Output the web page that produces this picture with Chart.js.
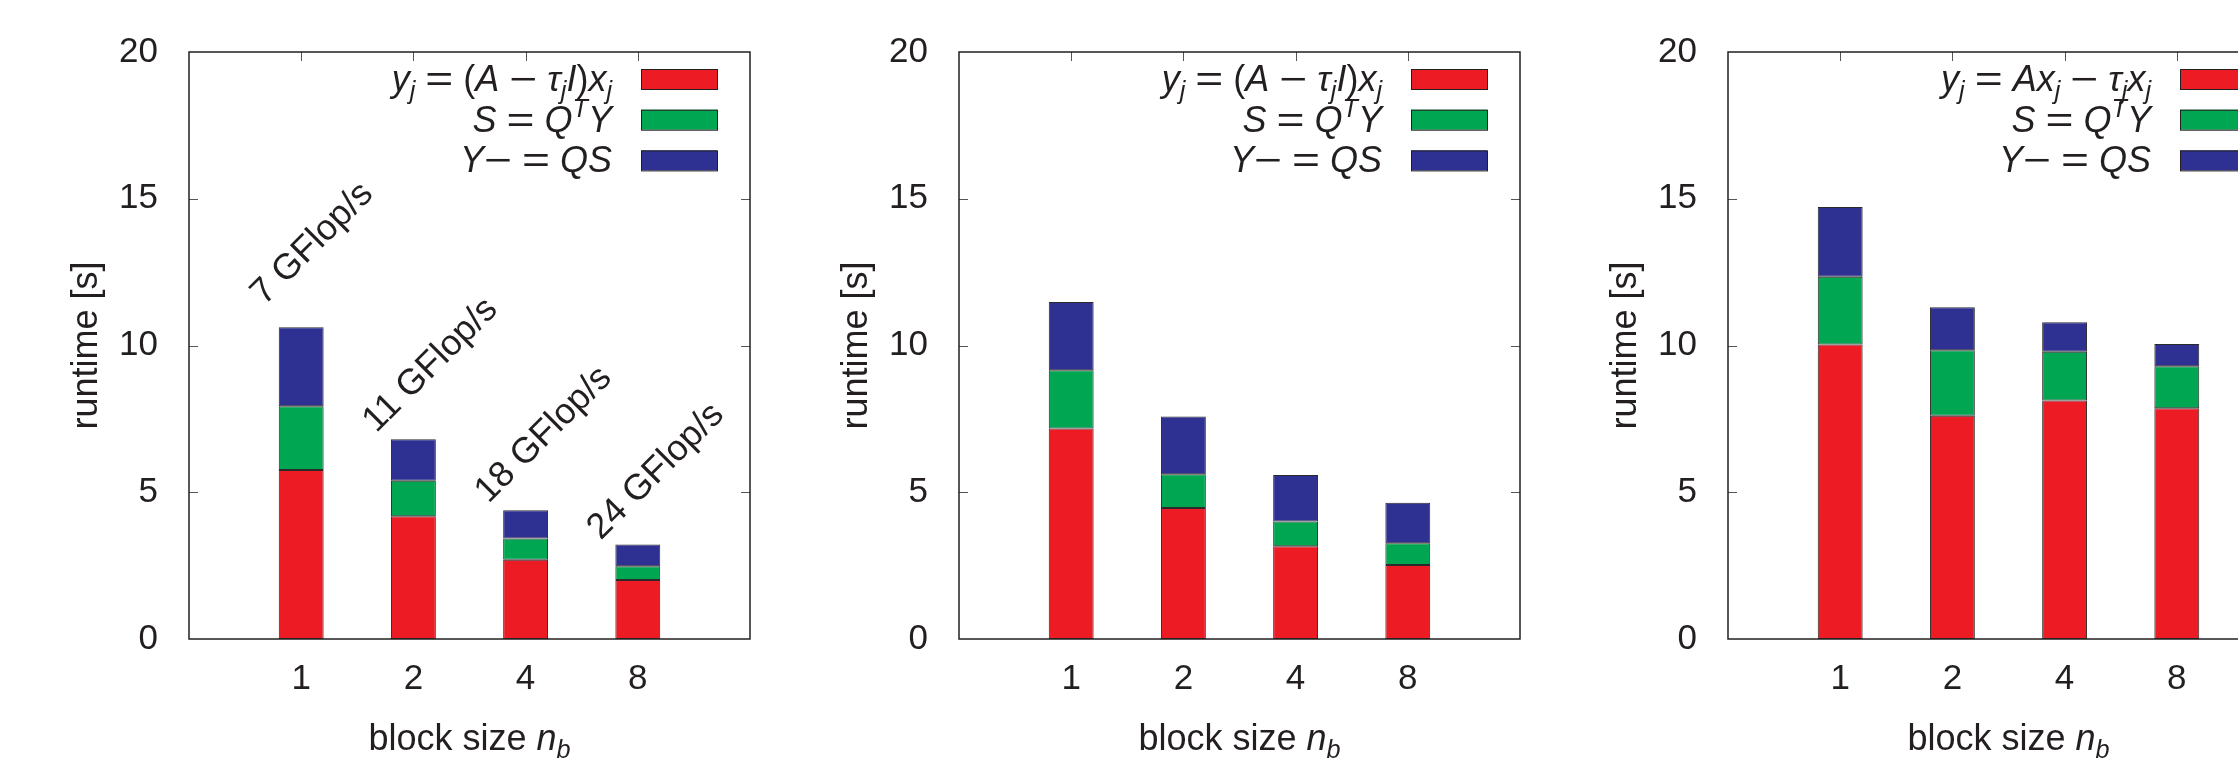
<!DOCTYPE html>
<html>
<head>
<meta charset="utf-8">
<script src="https://cdn.jsdelivr.net/npm/chart.js@4.4.1/dist/chart.umd.min.js"></script>
<style>
  html, body { margin: 0; padding: 0; background: #fff; overflow: hidden; }
  body { width: 2238px; height: 763px; position: relative; }
  .panel { position: absolute; top: 0; width: 769px; height: 763px; }
</style>
</head>
<body>
<div class="panel" style="left:0px"><canvas id="chart1"></canvas></div>
<div class="panel" style="left:770px"><canvas id="chart2"></canvas></div>
<div class="panel" style="left:1539px"><canvas id="chart3"></canvas></div>
<script>
// x categories (block size n_b)
const blockSizes = ['1', '2', '4', '8'];

// left panel: y_j = (A - tau_j I) x_j
const p1Apply   = [5.76, 4.18, 2.70, 2.01];
const p1Project = [2.17, 1.21, 0.72, 0.47];
const p1Update  = [2.69, 1.42, 0.97, 0.74];
const p1Gflops  = [7, 11, 18, 24];
const p1LabelAt = [11.35, 7.0, 4.6, 3.35];   // runtime where each GFlop/s label starts

// middle panel
const p2Apply   = [7.17, 4.46, 3.16, 2.52];
const p2Project = [1.99, 1.15, 0.84, 0.74];
const p2Update  = [2.32, 1.97, 1.59, 1.38];

// right panel: y_j = A x_j - tau_j x_j
const p3Apply   = [10.03, 7.61, 8.13, 7.86];
const p3Project = [2.31, 2.23, 1.66, 1.43];
const p3Update  = [2.38, 1.46, 1.00, 0.76];

// legend texts ($..$ = math mode, _ subscript, ^ superscript)
const legendShift = ['$y_j = (A − τ_jI)x_j$', '$S = Q^TY$', '$Y− = QS$'];
const legendPlain = ['$y_j = Ax_j − τ_jx_j$', '$S = Q^TY$', '$Y− = QS$'];

const RED = '#ed1c24', GREEN = '#00a651', BLUE = '#2e3192';
const INK = '#231f20';
const FONT = '"Liberation Sans", Arial, sans-serif';

function richRuns(markup, size) {
    const runs = [];
    let math = false;
    for (let i = 0; i < markup.length; i++) {
        let ch = markup[i];
        if (ch === '$') { math = !math; continue; }
        let shift = 0, scale = 1;
        if ((ch === '_' || ch === '^') && i + 1 < markup.length) {
            shift = ch === '_' ? 0.22 : -0.42;
            scale = 0.7;
            ch = markup[++i];
        }
        const italic = math && /[A-Za-zτ]/.test(ch);
        const wide = math && (ch === '=' || ch === '−');
        runs.push({ ch, shift: shift * size, size: size * scale, italic, wide });
    }
    return runs;
}

function fontOf(r) {
    return (r.italic ? 'italic ' : '') + r.size + 'px ' + FONT;
}

function drawRich(ctx, markup, x, y, size, align) {
    const runs = richRuns(markup, size);
    let total = 0;
    runs.forEach(r => {
        ctx.font = fontOf(r);
        r.glyph = ctx.measureText(r.ch).width;
        r.w = r.wide ? Math.max(r.glyph, 0.778 * r.size) : r.glyph;
        total += r.w;
    });
    let cx = align === 'right' ? x - total : align === 'center' ? x - total / 2 : x;
    ctx.textAlign = 'left';
    ctx.textBaseline = 'alphabetic';
    runs.forEach(r => {
        ctx.font = fontOf(r);
        if (r.wide) {
            // stretch = and minus like TeX math symbols
            ctx.save();
            ctx.translate(cx + r.w / 2, y + r.shift);
            ctx.scale(r.w / r.glyph, 1);
            ctx.fillText(r.ch, -r.glyph / 2, 0);
            ctx.restore();
        } else {
            ctx.fillText(r.ch, cx, y + r.shift);
        }
        cx += r.w;
    });
}

// gnuplot style border, inward mirror ticks, legend, x title, GFlop/s labels
const gnuplotLook = {
    id: 'gnuplotLook',
    afterDatasetsDraw(chart, args, opts) {
        const { ctx, chartArea: a, scales: { x, y } } = chart;
        ctx.save();
        ctx.strokeStyle = '#555';
        ctx.lineWidth = 1;
        ctx.beginPath();
        y.ticks.forEach(t => {
            if (t.value <= y.min || t.value >= y.max) return;
            const py = Math.round(y.getPixelForValue(t.value)) + 0.5;
            ctx.moveTo(a.left, py); ctx.lineTo(a.left + 9, py);
            ctx.moveTo(a.right, py); ctx.lineTo(a.right - 9, py);
        });
        blockSizes.forEach((b, i) => {
            const px = Math.round(x.getPixelForValue(i + 1)) + 0.5;
            ctx.moveTo(px, a.top); ctx.lineTo(px, a.top + 9);
        });
        ctx.stroke();
        ctx.strokeStyle = INK;
        ctx.lineWidth = 1.5;
        ctx.strokeRect(a.left, a.top, a.right - a.left, a.bottom - a.top);

        // legend, top right inside the frame
        chart.data.datasets.forEach((ds, i) => {
            const boxR = a.right - 33, boxW = 76, boxH = 20;
            const cy = a.top + 27 + i * 40.7;
            ctx.fillStyle = ds.backgroundColor;
            ctx.fillRect(boxR - boxW, cy - boxH / 2, boxW, boxH);
            ctx.strokeStyle = INK;
            ctx.lineWidth = 1;
            ctx.strokeRect(boxR - boxW + 0.5, cy - boxH / 2 + 0.5, boxW, boxH);
            ctx.fillStyle = INK;
            drawRich(ctx, ds.label, boxR - boxW - 29, cy + 12, 36, 'right');
        });

        // x axis title
        ctx.fillStyle = INK;
        drawRich(ctx, 'block size $n_b$', (a.left + a.right) / 2, 750, 36, 'center');

        // rotated throughput labels above the bars
        if (opts.gflops) {
            const unit = x.getPixelForValue(1) - x.getPixelForValue(0);
            ctx.font = '36px ' + FONT;
            ctx.textAlign = 'left';
            ctx.textBaseline = 'alphabetic';
            opts.gflops.forEach((g, i) => {
                const px = x.getPixelForValue(i + 1) - 0.33 * unit;
                const py = y.getPixelForValue(opts.at[i]);
                ctx.save();
                ctx.translate(px, py);
                ctx.rotate(-Math.PI / 4);
                ctx.fillText(g + ' GFlop/s', 0, 0);
                ctx.restore();
            });
        }
        ctx.restore();
    }
};

function makeChart(id, apply, project, update, labels, gflops, labelAt) {
    const toPoints = vals => vals.map((v, i) => ({ x: i + 1, y: v }));
    const bar = (label, vals, color) => ({
        label: label,
        data: toPoints(vals),
        backgroundColor: color,
        borderColor: '#2b2b2b',
        borderWidth: 1,
        borderSkipped: false,
        categoryPercentage: 1,
        barPercentage: 0.4
    });
    return new Chart(document.getElementById(id), {
        type: 'bar',
        data: {
            datasets: [
                bar(labels[0], apply, RED),
                bar(labels[1], project, GREEN),
                bar(labels[2], update, BLUE)
            ]
        },
        options: {
            responsive: true,
            maintainAspectRatio: false,
            animation: false,
            layout: { padding: { top: 47, right: 9, left: 0, bottom: 0 } },
            plugins: {
                legend: { display: false },
                tooltip: { enabled: false },
                gnuplotLook: { gflops: gflops, at: labelAt }
            },
            scales: {
                x: {
                    type: 'linear',
                    min: 0,
                    max: blockSizes.length + 1,
                    offset: false,
                    stacked: true,
                    grid: { display: false, drawTicks: false, offset: false },
                    border: { display: false },
                    ticks: {
                        stepSize: 1,
                        autoSkip: false,
                        maxRotation: 0,
                        padding: 19,
                        color: INK,
                        font: { family: FONT, size: 35 },
                        callback: v => blockSizes[v - 1] ?? ''
                    },
                    afterFit: s => { s.height = 124; }
                },
                y: {
                    min: 0,
                    max: 20,
                    stacked: true,
                    grid: { display: false, drawTicks: false },
                    border: { display: false },
                    ticks: {
                        stepSize: 5,
                        padding: 31,
                        color: INK,
                        font: { family: FONT, size: 35 }
                    },
                    title: {
                        display: true,
                        text: 'runtime [s]',
                        color: INK,
                        font: { family: FONT, size: 36 },
                        padding: { top: 65, bottom: 0 }
                    },
                    afterFit: s => { s.width = 189; }
                }
            }
        },
        plugins: [gnuplotLook]
    });
}

makeChart('chart1', p1Apply, p1Project, p1Update, legendShift, p1Gflops, p1LabelAt);
makeChart('chart2', p2Apply, p2Project, p2Update, legendShift, null, null);
makeChart('chart3', p3Apply, p3Project, p3Update, legendPlain, null, null);
</script>
</body>
</html>
